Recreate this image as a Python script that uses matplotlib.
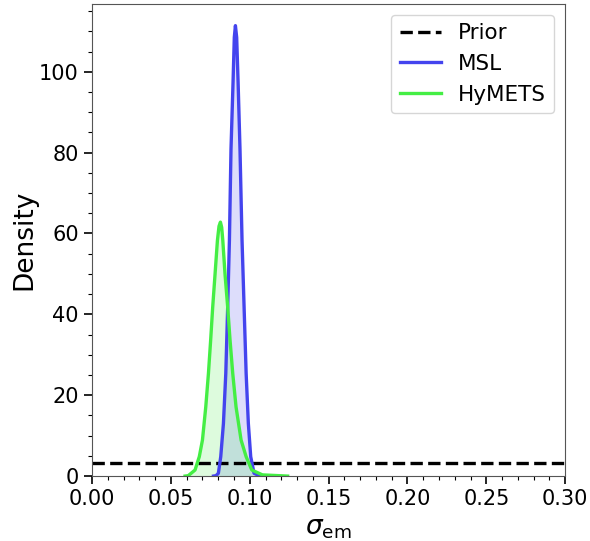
import matplotlib
matplotlib.use("Agg")
import matplotlib.pyplot as plt
from matplotlib.ticker import MultipleLocator

# density curves
msl_x = [0.0770, 0.0786, 0.0801, 0.0816, 0.0833, 0.0848, 0.0860, 0.0871, 0.0881,
         0.0894, 0.0902, 0.0909, 0.0917, 0.0926, 0.0938, 0.0951, 0.0964, 0.0977,
         0.0991, 0.1006, 0.1027, 0.1060, 0.1080]
msl_y = [0.0, 0.1, 0.7, 4.8, 13.0, 25.4, 41.8, 58.3, 80.9,
         97.4, 108.5, 111.4, 108.5, 97.4, 80.9, 58.3, 41.8, 25.4,
         13.0, 4.8, 0.7, 0.1, 0.0]

hymets_x = [0.0590, 0.0610, 0.0653, 0.0680, 0.0700, 0.0721, 0.0738, 0.0752, 0.0765,
            0.0780, 0.0795, 0.0805, 0.0814, 0.0822, 0.0829, 0.0843, 0.0860, 0.0875,
            0.0892, 0.0913, 0.0945, 0.0977, 0.1013, 0.1080, 0.1240]
hymets_y = [0.0, 0.1, 1.5, 4.8, 8.9, 17.1, 25.4, 33.6, 41.8,
            50.0, 58.3, 61.8, 62.8, 61.5, 58.3, 50.0, 41.8, 33.6,
            25.4, 17.1, 8.9, 4.8, 1.5, 0.3, 0.0]

prior_range = [0.0, 0.3]
prior_density = 1 / 0.3

blue = "#4444ee"
green = "#44ee44"

fig = plt.figure(figsize=(5.9, 5.41), dpi=100)
ax = fig.add_axes([0.156, 0.120, 0.802, 0.873])

ax.plot(prior_range, [prior_density, prior_density], color="black", ls="--", lw=2.4, label="Prior")
ax.plot(msl_x, msl_y, color=blue, lw=2.4, label="MSL")
ax.fill_between(msl_x, msl_y, color=blue, alpha=0.18, lw=0)
ax.plot(hymets_x, hymets_y, color=green, lw=2.4, label="HyMETS")
ax.fill_between(hymets_x, hymets_y, color=green, alpha=0.18, lw=0)

ax.set_xlim(0, 0.3)
ax.set_ylim(0, 116.8)
ax.xaxis.set_major_locator(MultipleLocator(0.05))
ax.xaxis.set_minor_locator(MultipleLocator(0.01))
ax.yaxis.set_major_locator(MultipleLocator(20))
ax.yaxis.set_minor_locator(MultipleLocator(5))
ax.tick_params(which="major", length=6, width=1.2, labelsize=15)
ax.tick_params(which="minor", length=3, width=0.8)

for s in ax.spines.values():
    s.set_color("#555555")

ax.set_xlabel(r"$\sigma_{\rm em}$", fontsize=19)
ax.set_ylabel("Density", fontsize=19, labelpad=1)
ax.legend(loc="upper right", fontsize=15.5, handlelength=1.9)

plt.savefig("out.png", dpi=100)
